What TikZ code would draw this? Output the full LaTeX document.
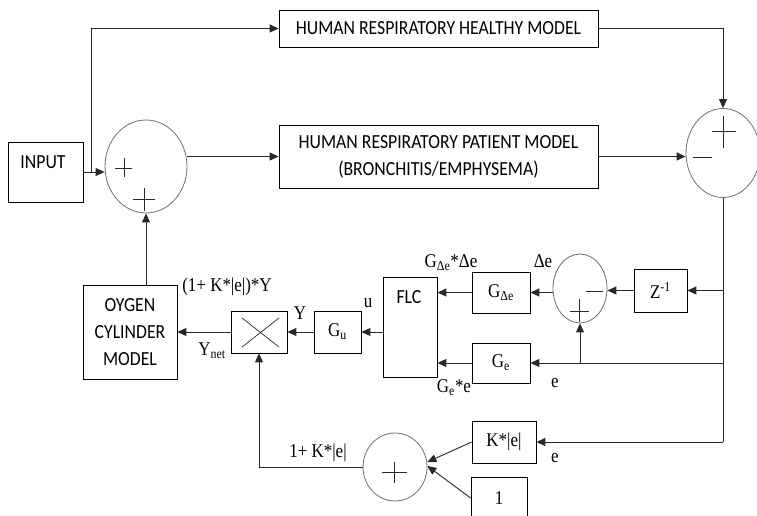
\documentclass[tikz,border=0pt]{standalone}
\usepackage{fontspec}
\setmainfont{Carlito}[FakeStretch=0.885]
\newfontfamily\tnr{Liberation Serif}[FakeStretch=0.87]
\usepackage{tikz}
\usetikzlibrary{positioning, arrows.meta, shapes.geometric}
\definecolor{Milinea}{RGB}{40,40,40}
\definecolor{Micirculo}{RGB}{110,110,110}

\begin{document}
\begin{tikzpicture}[x=1pt, y=-1pt,
  blk/.style ={rectangle, draw=black, line width=0.8pt, inner sep=0pt,
               align=center, font=\fontsize{20}{27}\selectfont},
  mblk/.style={rectangle, draw=black, line width=0.8pt, inner sep=0pt,
               font=\tnr\fontsize{19.5}{21}\selectfont},
  sumc/.style={ellipse, draw=Micirculo, line width=0.8pt, inner sep=0pt},
  lbl/.style ={inner sep=0pt, font=\tnr\fontsize{19.5}{21}\selectfont},
  txt/.style ={inner sep=0pt, font=\fontsize{20}{27}\selectfont},
  sgn/.style ={draw=Milinea, line width=0.7pt},
  lin/.style ={draw=Milinea, line width=0.9pt},
  arr/.style ={lin, -{Triangle[length=9pt, width=8pt]}},
]
\useasboundingbox (0,0) rectangle (757,516);

%% ═══ Entrada y modelos ═══
\node[blk, minimum width=75pt, minimum height=60pt] (IN) at (45.5,172) {};
\node[txt] (INt) at (43,162) {INPUT};
\node[sumc, minimum width=82pt, minimum height=93pt] (S1) at (146,166.5) {};
\node[blk, minimum width=319pt, minimum height=37pt]
            (HM) at (438.5,28.5) {HUMAN RESPIRATORY HEALTHY MODEL};
\node[blk, minimum width=319pt, minimum height=63pt]
            (PM) at (438.5,156.5) {HUMAN RESPIRATORY PATIENT MODEL\\(BRONCHITIS/EMPHYSEMA)};
\node[sumc, minimum width=74pt, minimum height=89pt] (S2) at (723,153) {};

\coordinate (IB) at (91,172);
\draw[arr] (IN.east) -- (IN.east -| S1.west);
\draw[arr] (IB) |- (HM.west);
\draw[arr] (PM.west -| S1.east) -- (PM.west);
\draw[arr] (HM.east) -| (S2.north);
\draw[arr] (PM.east) -- (PM.east -| S2.west);

%% ═══ Controlador ═══
\node[blk, minimum width=94pt, minimum height=94pt] (OX) at (130,332) {OYGEN\\CYLINDER\\MODEL};
\node[blk, minimum width=56pt, minimum height=42pt] (MU) at (259,332) {};
\node[mblk, minimum width=47pt, minimum height=42pt] (GU) at (337.5,332) {G\textsubscript{u}};
\node[blk, minimum width=54pt, minimum height=100pt] (FLC) at (410,327) {};
\node[txt] (FLCt) at (409,297) {FLC};
\node[mblk, minimum width=58pt, minimum height=41pt] (GD) at (501,292.5) {G\textsubscript{Δe}};
\node[mblk, minimum width=58pt, minimum height=40pt] (GE) at (501,363) {G\textsubscript{e}};
\node[sumc, minimum width=54pt, minimum height=69pt] (S3) at (580,288.5) {};
\node[mblk, minimum width=53pt, minimum height=43pt] (ZI) at (660.5,290.5) {Z\textsuperscript{-1}};
\node[mblk, minimum width=64pt, minimum height=42pt] (KE) at (504,442) {K*|e|};
\node[mblk, minimum width=56pt, minimum height=42pt] (ONE) at (499,498) {1};
\node[sumc, minimum width=64pt, minimum height=68pt] (S4) at (395,467) {};

% Etiquetas
\node[lbl] (LYK) at (227,287) {(1+ K*|e|)*Y};
\node[lbl] (LY)  at (300,313) {Y};
\node[lbl] (LU)  at (368,303) {u};
\node[lbl] (LYN) at (212,351) {Y\textsubscript{net}};
\node[lbl] (LGD) at (451,263) {G\textsubscript{Δe}*Δe};
\node[lbl] (LDE) at (543,261) {Δe};
\node[lbl] (LGE) at (454,388) {G\textsubscript{e}*e};
\node[lbl] (LE1) at (555,383) {e};
\node[lbl] (LE2) at (555,458) {e};
\node[lbl] (LK1) at (318,453) {1+ K*|e|};

\coordinate (BZ) at (S2.south |- ZI.east);
\coordinate (BE) at (S2.south |- GE.east);
\coordinate (BK) at (S2.south |- KE.east);
\draw[lin] (S2.south) -- (BK);
\draw[arr] (BZ) -- (ZI.east);
\draw[arr] (BE) -- (GE.east);
\draw[arr] (BK) -- (KE.east);
\draw[arr] (S3.south |- GE.east) -- (S3.south);
\draw[arr] (ZI.west) -- (ZI.west -| S3.east);
\draw[arr] (GD.east -| S3.west) -- (GD.east);
\draw[arr] (GD.west) -- (GD.west -| FLC.east);
\draw[arr] (GE.west) -- (GE.west -| FLC.east);
\draw[arr] (GU.east -| FLC.west) -- (GU.east);
\draw[arr] (GU.west) -- (MU.east);
\draw[arr] (MU.west) -- (OX.east);
\draw[arr] (KE.west) -- ([yshift=5pt]S4.east);
\draw[arr] (ONE.west) -- ([yshift=1pt]S4.east);
\draw[arr] (S4.west) -| (MU.south);
\draw[arr] (S1.south |- OX.north) -- (S1.south);

%% ═══ Signos ═══
\draw[sgn] (115,168) -- (132,168) (124,158) -- (124,177);
\draw[sgn] (133,199) -- (155,199) (144,188) -- (144,211);
\draw[sgn] (712,131) -- (736,131) (723,116) -- (723,148);
\draw[sgn] (693,157) -- (712,157);
\draw[sgn] (586,291) -- (603,291);
\draw[sgn] (570,311) -- (589,311) (579,299) -- (579,322);
\draw[sgn] (382,472) -- (407,472) (394,462) -- (394,483);
\draw[sgn] (242,318) -- (279,347) (242,347) -- (279,318);

\end{tikzpicture}
\end{document}
